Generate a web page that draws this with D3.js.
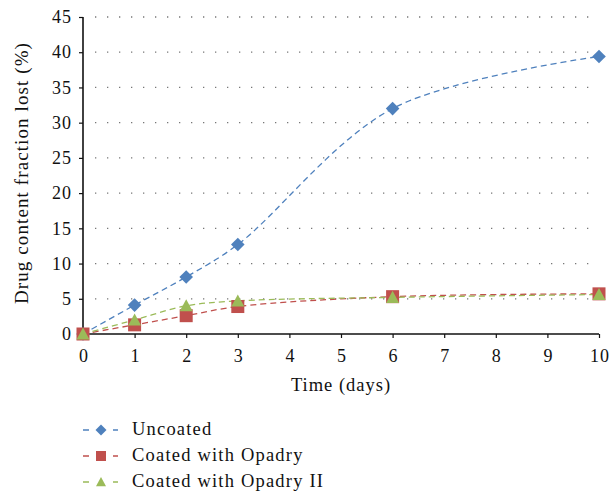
<!DOCTYPE html>
<html><head><meta charset="utf-8">
<script src="https://cdn.jsdelivr.net/npm/d3@7"></script>
<style>body{margin:0;background:#fff}svg{display:block}text{font-family:"Liberation Serif","DejaVu Serif",serif;fill:#111}</style>
</head><body><div id="chart"></div>
<script>
const days = [0, 1, 2, 3, 6, 10];
const uncoated = [0, 4.1, 8.1, 12.7, 32.0, 39.4];
const opadry = [0, 1.3, 2.6, 3.9, 5.3, 5.7];
const opadryII = [0, 2.0, 4.0, 4.7, 5.2, 5.6];
const seriesNames = ["Uncoated", "Coated with Opadry", "Coated with Opadry II"];
const xTicks = [0,1,2,3,4,5,6,7,8,9,10];
const yTicks = [0,5,10,15,20,25,30,35,40,45];

const W = 613, H = 492;
const svg = d3.select("#chart").append("svg").attr("width", W).attr("height", H);
const x = d3.scaleLinear().domain([0,10]).range([83,599]);
const y = d3.scaleLinear().domain([0,45]).range([334,17]);

// grid
svg.append("g").selectAll("line").data(yTicks.filter(d=>d>0)).join("line")
  .attr("x1", 95).attr("x2", 592).attr("y1", d=>y(d)).attr("y2", d=>y(d))
  .attr("stroke", "#777").attr("stroke-width", 1.3).attr("stroke-dasharray", "1.3,10.7");

// axes
const yAxis = svg.append("g").attr("transform", "translate(83,0)")
  .call(d3.axisLeft(y).tickValues(yTicks).tickSize(4).tickPadding(7));
const xAxis = svg.append("g").attr("transform", "translate(0,334)")
  .call(d3.axisBottom(x).tickValues(xTicks).tickSize(4).tickPadding(11));
[yAxis, xAxis].forEach(a => {
  a.select(".domain").attr("stroke", "#111").attr("stroke-width", 1.6);
  a.selectAll(".tick line").attr("stroke", "#111").attr("stroke-width", 1.2);
  a.selectAll("text").style("font-family", '"Liberation Serif",serif').style("font-size", "18px")
    .style("letter-spacing", "1px").attr("fill", "#111");
});
xAxis.selectAll("text").attr("dx", "0.5px");
xAxis.select(".domain").attr("d", "M83,0H599");
yAxis.select(".domain").attr("d", "M0,17V334");

svg.append("text").attr("x", 341).attr("y", 391).attr("text-anchor", "middle")
  .style("font-size", "18.5px").style("letter-spacing", "1px").text("Time (days)");
svg.append("text").attr("transform", "translate(28,173) rotate(-90)").attr("text-anchor", "middle")
  .style("font-size", "19px").style("letter-spacing", "1.1px").text("Drug content fraction lost (%)");

const colors = ["#4F81BD", "#C0504D", "#9BBB59"];
const data = [uncoated, opadry, opadryII];
const line = d3.line().x(d=>x(d[0])).y(d=>y(d[1])).curve(d3.curveCatmullRom.alpha(0.5));

function marker(g, i, cx, cy, s) {
  if (i === 0) {
    g.append("path").attr("d", `M${cx},${cy-s}L${cx+s},${cy}L${cx},${cy+s}L${cx-s},${cy}Z`).attr("fill", colors[0]);
  } else if (i === 1) {
    g.append("rect").attr("x", cx-s).attr("y", cy-s).attr("width", 2*s).attr("height", 2*s).attr("fill", colors[1]);
  } else {
    g.append("path").attr("d", `M${cx},${cy-s}L${cx+s},${cy+s*0.85}L${cx-s},${cy+s*0.85}Z`).attr("fill", colors[2]);
  }
}

data.forEach((vals, i) => {
  const pts = days.map((d, j) => [d, vals[j]]);
  svg.append("path").datum(pts).attr("d", line).attr("fill", "none")
    .attr("stroke", colors[i]).attr("stroke-width", 1.3).attr("stroke-dasharray", "6,4");
});
data.forEach((vals, i) => {
  const g = svg.append("g");
  days.forEach((d, j) => marker(g, i, x(d), y(vals[j]), i === 0 ? 6.8 : 6.5));
});

// legend
const ly = [430, 456, 482];
seriesNames.forEach((name, i) => {
  const g = svg.append("g");
  g.append("line").attr("x1", 83).attr("x2", 118).attr("y1", ly[i]).attr("y2", ly[i])
    .attr("stroke", colors[i]).attr("stroke-width", 1.3).attr("stroke-dasharray", "6,4");
  g.append("rect").attr("x", 92).attr("y", ly[i]-6).attr("width", 17).attr("height", 12).attr("fill", "#fff");
  marker(g, i, 101, ly[i], i === 0 ? 5.5 : 5);
  g.append("text").attr("x", 132).attr("y", ly[i] + 5).style("font-size", "18.5px")
    .style("letter-spacing", "1.2px").text(name);
});
</script></body></html>
